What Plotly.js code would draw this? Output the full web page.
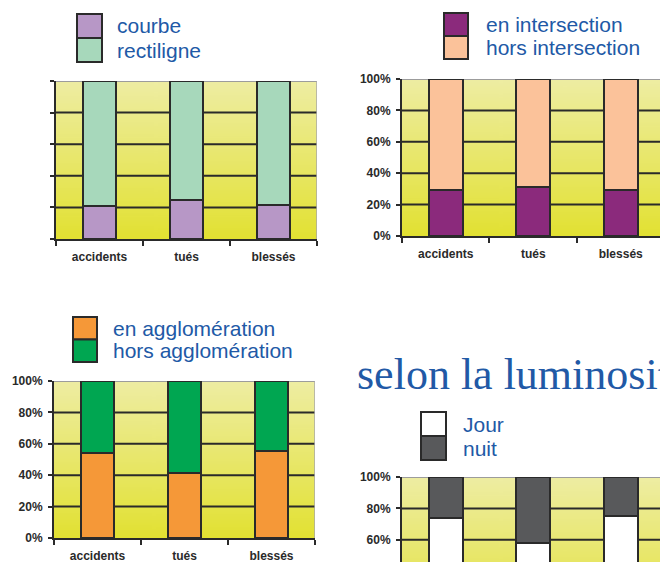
<!DOCTYPE html>
<html>
<head>
<meta charset="utf-8">
<script src="https://cdn.plot.ly/plotly-3.0.1.min.js"></script>
<style>
  html, body { margin: 0; padding: 0; background: #fff; }
  #chart { width: 660px; height: 562px; }
</style>
</head>
<body>
<div id="chart"></div>
<script>
// categories and shares (%)
var categories = ['accidents', 'tués', 'blessés'];

var courbe = [21, 25, 21.5];
var rectiligne = [79, 75, 78.5];

var enIntersection = [29, 31, 29];
var horsIntersection = [71, 69, 71];

var enAgglomeration = [54, 41.5, 55.5];
var horsAgglomeration = [46, 58.5, 44.5];

var jour = [74, 58, 75];
var nuit = [26, 42, 25];

var yTicks = [0, 20, 40, 60, 80, 100];
var yTickText = ['0%', '20%', '40%', '60%', '80%', '100%'];

var W = 660, H = 562;
function px(x) { return x / W; }
function py(y) { return 1 - y / H; }

var ink = '#2a2a2a';
var blue = '#2159a6';

// one entry per panel, px boxes
var panels = [
    {
        names: ['courbe', 'rectiligne'], series: [courbe, rectiligne],
        colors: ['#b797c6', '#a7d8bb'],
        plot: [56, 317, 81, 239], xrange: [-0.5, 2.5], yrange: [0, 100],
        ylabels: false, xlabels: true,
        legend: { box: [77, 14, 25, 24], text: 115 }
    },
    {
        names: ['en intersection', 'hors intersection'], series: [enIntersection, horsIntersection],
        colors: ['#8b2a7c', '#fbc29a'],
        plot: [402, 660, 79, 236], xrange: [-0.5, 2.449], yrange: [0, 100],
        ylabels: true, xlabels: true,
        legend: { box: [444, 13, 24, 23], text: 484 }
    },
    {
        names: ['en agglomération', 'hors agglomération'], series: [enAgglomeration, horsAgglomeration],
        colors: ['#f59838', '#00a651'],
        plot: [54, 315, 381, 538], xrange: [-0.5, 2.5], yrange: [0, 100],
        ylabels: true, xlabels: true,
        legend: { box: [73, 317, 24, 22.5], text: 111 }
    },
    {
        names: ['Jour', 'nuit'], series: [jour, nuit],
        colors: ['#ffffff', '#58595b'],
        plot: [402, 660, 477, 562], xrange: [-0.5, 2.449], yrange: [45.9, 100],
        ylabels: true, xlabels: false,
        legend: { box: [421, 412, 25, 24], text: 461 }
    }
];

function gradientUrl() {
    var c = document.createElement('canvas');
    c.width = 4; c.height = 200;
    var g = c.getContext('2d');
    var lg = g.createLinearGradient(0, 0, 0, 200);
    lg.addColorStop(0, '#eeeda3');
    lg.addColorStop(1, '#e2e132');
    g.fillStyle = lg;
    g.fillRect(0, 0, 4, 200);
    return c.toDataURL();
}
var grad = gradientUrl();

var data = [];
var shapes = [];
var annotations = [];
var images = [];
var layout = {
    width: W, height: H,
    margin: { l: 0, r: 0, t: 0, b: 0 },
    paper_bgcolor: '#ffffff',
    plot_bgcolor: 'rgba(0,0,0,0)',
    barmode: 'stack',
    bargap: 0.61,
    showlegend: false,
    hovermode: false
};

panels.forEach(function(p, i) {
    var n = i === 0 ? '' : String(i + 1);
    var xa = 'x' + n, ya = 'y' + n;

    p.series.forEach(function(vals, k) {
        data.push({
            type: 'bar',
            x: categories,
            y: vals,
            name: p.names[k],
            xaxis: xa, yaxis: ya,
            marker: { color: p.colors[k], line: { color: ink, width: 2 } }
        });
    });

    layout['xaxis' + n] = {
        domain: [px(p.plot[0]), px(p.plot[1])],
        anchor: ya,
        type: 'category',
        range: p.xrange,
        tickson: 'boundaries',
        ticks: p.xlabels ? 'outside' : '',
        ticklen: 5, tickwidth: 2, tickcolor: ink,
        showline: p.xlabels, linecolor: ink, linewidth: 2,
        showgrid: false,
        showticklabels: p.xlabels,
        ticklabelstandoff: 6,
        tickfont: { family: 'Arial, Liberation Sans', size: 12, color: ink, weight: 'bold' },
        fixedrange: true
    };
    layout['yaxis' + n] = {
        domain: [py(p.plot[3]), py(p.plot[2])],
        anchor: xa,
        range: p.yrange,
        tickvals: yTicks,
        ticktext: yTickText,
        ticks: 'outside', ticklen: 4, tickwidth: 2, tickcolor: ink,
        showline: true, linecolor: ink, linewidth: 2,
        showgrid: false,
        zeroline: false,
        showticklabels: p.ylabels,
        ticklabelstandoff: 3,
        tickfont: { family: 'Arial, Liberation Sans', size: 12, color: ink, weight: 'bold' },
        fixedrange: true
    };

    // yellow gradient behind the plot area (full 0-100 band)
    var top = p.plot[2];
    var bandPx = (p.plot[3] - p.plot[2]) * 100 / (p.yrange[1] - p.yrange[0]);
    images.push({
        source: grad,
        xref: 'paper', yref: 'paper',
        x: px(p.plot[0]), y: py(top),
        sizex: px(p.plot[1]) - px(p.plot[0]), sizey: bandPx / H,
        xanchor: 'left', yanchor: 'top',
        sizing: 'stretch', layer: 'below'
    });

    // dark inner gridlines, drawn under the bars
    yTicks.slice(1, -1).forEach(function(v) {
        shapes.push({
            type: 'line', layer: 'below',
            xref: xa, yref: ya,
            x0: -0.5, x1: 2.5, y0: v, y1: v,
            line: { color: ink, width: 2 }
        });
    });
    // light grey frame on top and right of the plot area
    shapes.push({
        type: 'line', layer: 'below',
        xref: xa, yref: ya,
        x0: -0.5, x1: 2.5, y0: 100, y1: 100,
        line: { color: '#9c9c9c', width: 2 }
    });
    shapes.push({
        type: 'line', layer: 'below',
        xref: xa, yref: ya,
        x0: 2.5, x1: 2.5, y0: 0, y1: 100,
        line: { color: '#a8a8a8', width: 1.5 }
    });

    // legend block: swatch column with text, first series on top
    var lg = p.legend;
    p.names.forEach(function(name, k) {
        var bt = lg.box[1] + k * lg.box[3];
        shapes.push({
            type: 'rect', layer: 'above',
            xref: 'paper', yref: 'paper',
            x0: px(lg.box[0]), x1: px(lg.box[0] + lg.box[2]),
            y0: py(bt + lg.box[3]), y1: py(bt),
            fillcolor: p.colors[k],
            line: { color: ink, width: 2 }
        });
        annotations.push({
            xref: 'paper', yref: 'paper',
            x: px(lg.text), y: py(bt + lg.box[3] / 2),
            xanchor: 'left', yanchor: 'middle',
            text: name, showarrow: false,
            font: { family: 'Arial, Liberation Sans', size: 21, color: blue }
        });
    });
});

annotations.push({
    xref: 'paper', yref: 'paper',
    x: px(355), y: py(401),
    xanchor: 'left', yanchor: 'bottom',
    text: 'selon la luminosité', showarrow: false,
    font: { family: 'Times New Roman, Liberation Serif', size: 44, color: blue }
});

layout.shapes = shapes;
layout.annotations = annotations;
layout.images = images;

Plotly.newPlot('chart', data, layout, { staticPlot: true, displayModeBar: false });
</script>
</body>
</html>
